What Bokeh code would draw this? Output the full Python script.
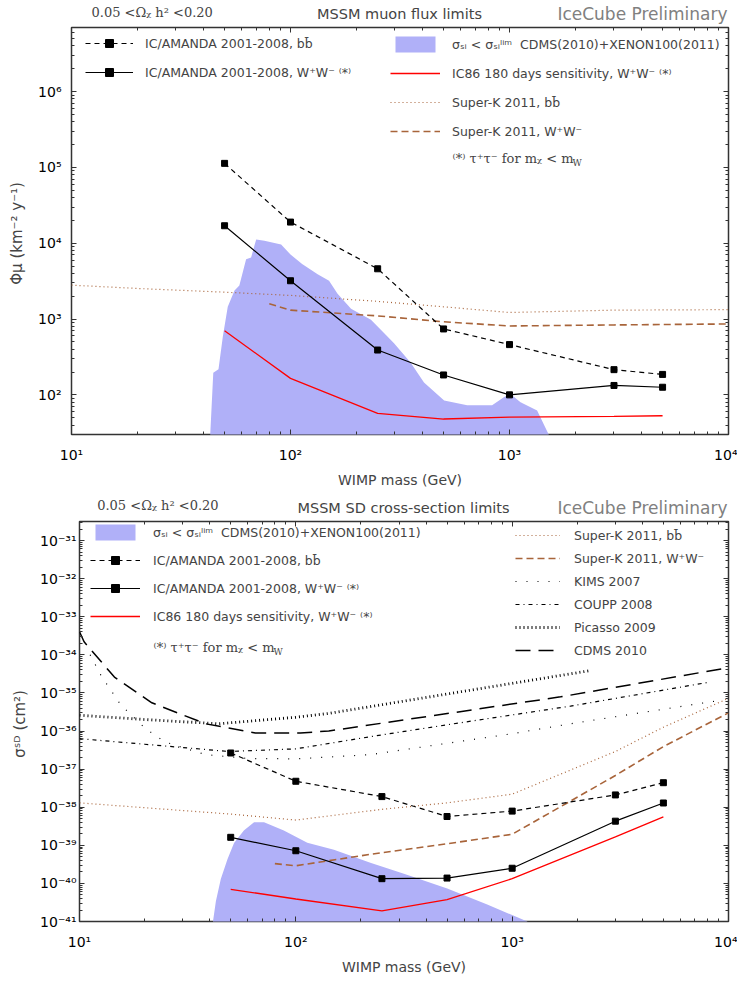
from bokeh.plotting import figure
from bokeh.models import (Label, Legend, LegendItem, FixedTicker, LogAxis,
                          CustomJSTickFormatter, Range1d)
from bokeh.embed import file_html
from bokeh.resources import INLINE

# ---------------- data: top panel (muon flux, km^-2 y^-1) ----------------
mass_ic = [50, 100, 250, 500, 1000, 3000, 5000]
flux_ic_bb = [1.13e5, 1.9e4, 4.6e3, 740, 460, 215, 186]
flux_ic_ww = [1.7e4, 3.2e3, 390, 183, 100, 133, 126]
flux_ic86 = [700, 165, 57, 48, 51, 52, 53]

mass_sk_bb_top = [10, 20, 50, 100, 250, 500, 1000, 3000, 10000]
flux_sk_bb = [2800, 2530, 2260, 2050, 1710, 1450, 1220, 1310, 1330]
mass_sk_ww_top = [80, 100, 250, 500, 1000, 3000, 10000]
flux_sk_ww = [1590, 1310, 1100, 920, 810, 836, 861]

mass_band_top = [43, 44.4, 46.9, 49.1, 51.7, 55.5, 58.4, 62.7, 66.1, 69.7, 76,
                 90.6, 100, 113, 133, 150, 164, 189, 233, 268, 297, 354, 407,
                 503, 641, 833, 942, 1010, 1123, 1337, 1510]
flux_band_top = [30, 196, 218, 590, 1450, 2380, 2760, 6150, 6500, 11200, 10800,
                 9600, 7100, 5300, 3900, 3200, 2150, 1370, 980, 650, 480, 265, 146,
                 84, 73, 73, 93, 103, 80, 62, 30]

# ---------------- data: bottom panel (SD cross-section, cm^2) ----------------
sd_ic_bb = [2.65e-37, 4.8e-38, 1.9e-38, 5.7e-39, 7.9e-39, 2.1e-38, 4.4e-38]
sd_ic_ww = [1.62e-39, 7.2e-40, 1.33e-40, 1.38e-40, 2.5e-40, 4.3e-39, 1.29e-38]
sd_ic86 = [7.0e-41, 3.9e-41, 1.9e-41, 3.75e-41, 1.33e-40, 1.66e-39, 5.6e-39]

mass_sk_bb_bot = [10, 20, 50, 100, 250, 500, 1000, 3000, 5000, 10000]
sd_sk_bb = [1.3e-38, 9.7e-39, 6.6e-39, 4.6e-39, 8.8e-39, 1.3e-38, 2.2e-38,
            2.9e-37, 1.26e-36, 7.2e-36]
mass_sk_ww_bot = [80, 100, 221, 500, 1000, 3000, 5000, 10000]
sd_sk_ww = [3.3e-40, 2.9e-40, 5.8e-40, 1.1e-39, 1.95e-39, 6.8e-38, 3.9e-37, 3.0e-36]

mass_kims = [11.2, 12.6, 15.5, 20.2, 24.8, 38.2, 60, 100, 221, 1000, 1860, 9500]
sd_kims = [1e-34, 2.8e-35, 4.9e-36, 1.15e-36, 5.2e-37, 2.4e-37, 1.9e-37, 1.86e-37,
           2.4e-37, 8.5e-37, 1.55e-36, 6.6e-36]
mass_coupp = [10, 20, 49, 100, 221, 537, 1860, 8090]
sd_coupp = [6.3e-37, 4.5e-37, 2.9e-37, 3.4e-37, 7.1e-37, 1.55e-36, 4.5e-36, 1.9e-35]
mass_picasso = [10, 20, 44, 100, 142, 537, 2260]
sd_picasso = [2.6e-36, 2.0e-36, 1.55e-36, 2.3e-36, 2.9e-36, 1.0e-35, 3.8e-35]
mass_cdms = [10, 10.5, 14.5, 21.6, 38.2, 65, 105, 142, 1675, 10000]
sd_cdms = [4e-34, 2.2e-34, 2.6e-35, 5.5e-36, 1.55e-36, 8.9e-37, 8.9e-37, 1.0e-36,
           7.9e-36, 4.6e-35]

mass_band_bot = [41.4, 42.7, 45, 48.3, 51.8, 57.5, 64.1, 71.3, 88, 113, 150, 221,
                 316, 501, 767, 1175]
sd_band_bot = [1e-41, 3.4e-41, 1.3e-40, 4.3e-40, 1.15e-39, 2.46e-39, 4e-39, 4e-39,
               2.46e-39, 1.17e-39, 7.7e-40, 3.5e-40, 1.8e-40, 7.4e-41, 2.8e-41, 1e-41]

# ---------------- ticks ----------------
x_ticks = [10, 100, 1000, 10000]
y_ticks_top = [1e2, 1e3, 1e4, 1e5, 1e6]
y_ticks_bot = [10.0 ** e for e in range(-41, -30)]


def minors(lo, hi):
    return [m * 10.0 ** e for e in range(lo, hi) for m in range(2, 10)]


SANS = "DejaVu Sans"
SERIF = "DejaVu Serif"
BAND = "#b0b0f8"
SK = "#a8643a"
EDGE = "#333333"
W = 737

SUP_CODE = """
const s = {'-':'\u207b','0':'\u2070','1':'\u00b9','2':'\u00b2','3':'\u00b3',
           '4':'\u2074','5':'\u2075','6':'\u2076','7':'\u2077','8':'\u2078','9':'\u2079'};
const e = Math.round(Math.log10(tick));
return '10' + String(e).split('').map(c => s[c]).join('');
"""


def tick_style(ax, ticker):
    ax.ticker = ticker
    ax.axis_line_color = None
    ax.major_tick_in = 5
    ax.major_tick_out = 0
    ax.minor_tick_in = 3
    ax.minor_tick_out = 0
    ax.major_tick_line_color = EDGE
    ax.minor_tick_line_color = EDGE


def style_axis(ax, ticker, standoff, label_standoff, label_size):
    tick_style(ax, ticker)
    ax.formatter = CustomJSTickFormatter(code=SUP_CODE)
    ax.major_label_text_font = SANS
    ax.major_label_text_font_size = "14px"
    ax.major_label_text_color = "black"
    ax.major_label_standoff = standoff
    ax.axis_label_text_font = SANS
    ax.axis_label_text_font_size = label_size
    ax.axis_label_text_font_style = "normal"
    ax.axis_label_standoff = label_standoff


def mirror_axis(ticker):
    ax = LogAxis()
    tick_style(ax, ticker)
    ax.formatter = CustomJSTickFormatter(code="return '';")
    ax.major_label_text_font_size = "1px"
    ax.major_label_text_alpha = 0
    ax.major_label_standoff = 0
    return ax


def make_fig(yr, height, bl, bb, yticks, yminor, ylab_standoff, xlabel, ylabel, ylab_sep):
    p = figure(x_axis_type="log", y_axis_type="log",
               x_range=Range1d(10, 1e4), y_range=Range1d(*yr),
               width=W, height=height,
               min_border_left=bl, min_border_top=3, min_border_bottom=bb,
               min_border_right=9,
               output_backend="svg", toolbar_location=None)
    p.xgrid.grid_line_color = None
    p.ygrid.grid_line_color = None
    p.outline_line_color = EDGE
    p.outline_line_width = 1.5
    p.background_fill_color = "white"
    p.border_fill_color = "white"
    p.xaxis.axis_label = xlabel
    p.yaxis.axis_label = ylabel
    style_axis(p.xaxis[0], FixedTicker(ticks=x_ticks, minor_ticks=minors(1, 4)), 12, 6, "14px")
    style_axis(p.yaxis[0], FixedTicker(ticks=yticks, minor_ticks=yminor), ylab_standoff,
               ylab_sep, "15px")
    p.add_layout(mirror_axis(FixedTicker(ticks=x_ticks, minor_ticks=minors(1, 4))), "above")
    p.add_layout(mirror_axis(FixedTicker(ticks=yticks, minor_ticks=yminor)), "right")
    return p


def make_header(height, omega_xy, title, title_xy, ice_xy):
    h = figure(width=W, height=height, x_range=Range1d(0, 1), y_range=Range1d(0, 1),
               min_border=0, min_border_left=0, min_border_right=0,
               min_border_top=0, min_border_bottom=0,
               x_axis_location=None, y_axis_location=None,
               output_backend="svg", toolbar_location=None)
    h.outline_line_color = None
    h.grid.visible = False
    h.add_layout(Label(x=omega_xy[0], y=omega_xy[1], x_units="screen", y_units="screen",
                       text="0.05 <Ω\u1d6a h\u00b2 <0.20", text_font=SERIF,
                       text_font_size="13px", text_baseline="middle", text_align="left"))
    h.add_layout(Label(x=title_xy[0], y=title_xy[1], x_units="screen", y_units="screen",
                       text=title, text_font=SANS, text_font_size="14.5px",
                       text_baseline="middle", text_align="center"))
    h.add_layout(Label(x=ice_xy[0], y=ice_xy[1], x_units="screen", y_units="screen",
                       text="IceCube Preliminary", text_font=SANS, text_font_size="17px",
                       text_color="#808080", text_baseline="middle", text_align="right"))
    return h


def add_footnote(p, x, y):
    p.add_layout(Label(x=x, y=y, x_units="screen", y_units="screen",
                       text="\u207d*\u207e  τ\u207aτ\u207b  for  m\u1d6a < m",
                       text_font=SERIF, text_font_size="13px",
                       text_baseline="middle", text_align="left"))
    p.add_layout(Label(x=x + 120, y=y - 4, x_units="screen", y_units="screen",
                       text="W", text_font=SERIF, text_font_size="9px",
                       text_baseline="middle", text_align="left"))


def make_legend(items, loc, glyph_width, standoff, spacing):
    return Legend(items=items, location=loc, padding=0, margin=0,
                  spacing=spacing, glyph_width=glyph_width, glyph_height=20,
                  label_height=20, label_standoff=standoff,
                  label_text_font=SANS, label_text_font_size="12.5px",
                  border_line_alpha=0, background_fill_alpha=0)


LBL_BB = "IC/AMANDA 2001-2008, bb\u0304"
LBL_WW = "IC/AMANDA 2001-2008, W\u207aW\u207b \u207d*\u207e"
LBL_86 = "IC86 180 days sensitivity, W\u207aW\u207b \u207d*\u207e"
LBL_BAND = "σ\u209b\u1d62 < σ\u209b\u1d62\u02e1\u2071\u1d50  CDMS(2010)+XENON100(2011)"
LBL_SKBB = "Super-K 2011, bb\u0304"
LBL_SKWW = "Super-K 2011, W\u207aW\u207b"

# ======================= TOP PANEL =======================
h1 = make_header(24, (91, 12), "MSSM muon flux limits", (399, 10.5), (727, 10.5))
p1 = make_fig((30, 7e6), 466, 71, 51, y_ticks_top, minors(1, 7), 10,
              "WIMP mass (GeV)", "Φμ  (km\u207b\u00b2 y\u207b\u00b9)", 9)

band1 = p1.varea(x=mass_band_top, y1=[1e-3] * len(mass_band_top), y2=flux_band_top,
                 fill_color=BAND, fill_alpha=1.0)
skbb1 = p1.line(mass_sk_bb_top, flux_sk_bb, line_color=SK, line_width=1.2, line_dash="1 3")
skww1 = p1.line(mass_sk_ww_top, flux_sk_ww, line_color=SK, line_width=1.6, line_dash="7 4")
ic86_1 = p1.line(mass_ic, flux_ic86, line_color="red", line_width=1.3)
bbl1 = p1.line(mass_ic, flux_ic_bb, line_color="black", line_width=1.2, line_dash="5 4")
bbs1 = p1.scatter(mass_ic, flux_ic_bb, marker="square", size=6, color="black")
wwl1 = p1.line(mass_ic, flux_ic_ww, line_color="black", line_width=1.2)
wws1 = p1.scatter(mass_ic, flux_ic_ww, marker="square", size=6, color="black")

p1.add_layout(make_legend([
    LegendItem(label=LBL_BB, renderers=[bbl1, bbs1]),
    LegendItem(label=LBL_WW, renderers=[wwl1, wws1]),
], (14, 352), 48, 12, 9))
p1.add_layout(make_legend([
    LegendItem(label=LBL_BAND, renderers=[band1]),
    LegendItem(label=LBL_86, renderers=[ic86_1]),
    LegendItem(label=LBL_SKBB, renderers=[skbb1]),
    LegendItem(label=LBL_SKWW, renderers=[skww1]),
], (319, 293), 50, 12, 9))
add_footnote(p1, 381, 276)

# ======================= BOTTOM PANEL =======================
h2 = make_header(28, (96.7, 13), "MSSM SD cross-section limits", (403, 10.5), (727, 10.5))
p2 = make_fig((1e-41, 3.16e-31), 459, 79, 43, y_ticks_bot, minors(-41, -30), 3,
              "WIMP mass (GeV)", "σ\u02e2\u1d30  (cm\u00b2)", 8)

band2 = p2.varea(x=mass_band_bot, y1=[1e-50] * len(mass_band_bot), y2=sd_band_bot,
                 fill_color=BAND, fill_alpha=1.0)
skbb2 = p2.line(mass_sk_bb_bot, sd_sk_bb, line_color=SK, line_width=1.2, line_dash="1 3")
skww2 = p2.line(mass_sk_ww_bot, sd_sk_ww, line_color=SK, line_width=1.6, line_dash="7 4")
kims = p2.line(mass_kims, sd_kims, line_color="black", line_width=1.2, line_dash="1 10")
coupp = p2.line(mass_coupp, sd_coupp, line_color="black", line_width=1.2, line_dash="4 4 1 4")
picasso = p2.line(mass_picasso, sd_picasso, line_color="black", line_width=2.8, line_dash="1 3")
cdms = p2.line(mass_cdms, sd_cdms, line_color="black", line_width=1.5, line_dash="15 8")
ic86_2 = p2.line(mass_ic, sd_ic86, line_color="red", line_width=1.3)
bbl2 = p2.line(mass_ic, sd_ic_bb, line_color="black", line_width=1.2, line_dash="5 4")
bbs2 = p2.scatter(mass_ic, sd_ic_bb, marker="square", size=6, color="black")
wwl2 = p2.line(mass_ic, sd_ic_ww, line_color="black", line_width=1.2)
wws2 = p2.scatter(mass_ic, sd_ic_ww, marker="square", size=6, color="black")

p2.add_layout(make_legend([
    LegendItem(label=LBL_BAND, renderers=[band2]),
    LegendItem(label=LBL_BB, renderers=[bbl2, bbs2]),
    LegendItem(label=LBL_WW, renderers=[wwl2, wws2]),
    LegendItem(label=LBL_86, renderers=[ic86_2]),
], (11, 295), 50, 13, 8))
p2.add_layout(make_legend([
    LegendItem(label=LBL_SKBB, renderers=[skbb2]),
    LegendItem(label=LBL_SKWW, renderers=[skww2]),
    LegendItem(label="KIMS 2007", renderers=[kims]),
    LegendItem(label="COUPP 2008", renderers=[coupp]),
    LegendItem(label="Picasso 2009", renderers=[picasso]),
    LegendItem(label="CDMS 2010", renderers=[cdms]),
], (436, 261), 45, 14, 3))
add_footnote(p2, 74, 274)

open("out.html", "w").write(file_html([h1, p1, h2, p2], INLINE))
